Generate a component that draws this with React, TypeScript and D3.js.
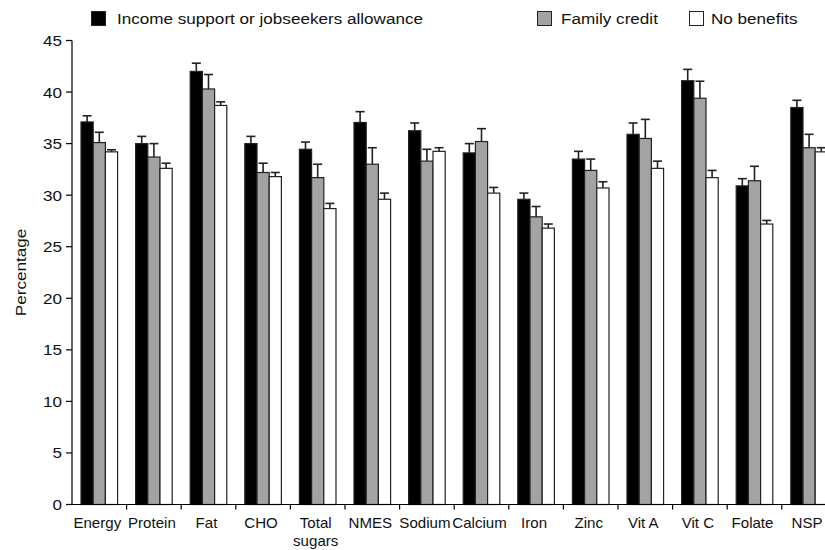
import React from 'react';
import * as d3 from 'd3';

// Nutrient categories along the x axis ("\n" marks a line break in the label)
const categories = [
  'Energy', 'Protein', 'Fat', 'CHO', 'Total\nsugars', 'NMES', 'Sodium',
  'Calcium', 'Iron', 'Zinc', 'Vit A', 'Vit C', 'Folate', 'NSP',
];

const seriesNames = ['Income support or jobseekers allowance', 'Family credit', 'No benefits'];

// Mean percentage per category
const incomeSupport = [37.1, 35.0, 42.0, 35.0, 34.45, 37.05, 36.25, 34.1, 29.6, 33.5, 35.9, 41.1, 30.9, 38.5];
const familyCredit = [35.1, 33.7, 40.3, 32.2, 31.7, 33.0, 33.3, 35.2, 27.9, 32.4, 35.5, 39.4, 31.4, 34.6];
const noBenefits = [34.2, 32.6, 38.7, 31.8, 28.7, 29.6, 34.25, 30.2, 26.8, 30.7, 32.6, 31.7, 27.2, 34.2];

// Standard errors (drawn upward only)
const incomeSupportErr = [0.6, 0.7, 0.8, 0.7, 0.7, 1.05, 0.75, 0.9, 0.6, 0.75, 1.1, 1.1, 0.7, 0.7];
const familyCreditErr = [1.0, 1.3, 1.4, 0.9, 1.3, 1.6, 1.15, 1.25, 1.0, 1.1, 1.85, 1.65, 1.4, 1.3];
const noBenefitsErr = [0.2, 0.5, 0.35, 0.4, 0.5, 0.6, 0.35, 0.55, 0.4, 0.6, 0.7, 0.7, 0.35, 0.4];

const yTicks = [0, 5, 10, 15, 20, 25, 30, 35, 40, 45];

const seriesValues = [incomeSupport, familyCredit, noBenefits];
const seriesErrors = [incomeSupportErr, familyCreditErr, noBenefitsErr];
const seriesFill = ['#000000', '#a3a3a3', '#ffffff'];

const W = 825;
const H = 550;
const FONT = '"Liberation Sans", Arial, sans-serif';
const FS = 14.5;
const SX = 1.18;
const SX_LABEL = 1.04;

export default function App() {
  const left = 72;
  const step = 54.6;
  const x = d3
    .scaleBand<string>()
    .domain(categories)
    .range([left, left + step * categories.length])
    .paddingInner(0.33)
    .paddingOuter(0.165);
  const xs = d3
    .scaleBand<number>()
    .domain([0, 1, 2])
    .range([0, x.bandwidth()]);
  const y = d3.scaleLinear().domain([0, 45]).range([504.5, 40.5]);

  const boundaries = categories.map((_, i) => left + x.step() * (i + 1));

  const legendItems = [
    { sx: 91, tx: 117 },
    { sx: 537, tx: 561 },
    { sx: 689, tx: 711 },
  ];

  return (
    <svg
      width={W}
      height={H}
      style={{ position: 'absolute', left: 0, top: 0, background: '#fff' }}
      fontFamily={FONT}
    >
      {/* legend */}
      {seriesNames.map((name, i) => (
        <g key={name}>
          <rect x={legendItems[i].sx + 0.5} y={11.5} width={14} height={14} fill={seriesFill[i]} stroke="#222" />
          <text transform={`translate(${legendItems[i].tx},23.5) scale(${SX},1)`} fontSize={FS} fill="#111">
            {name}
          </text>
        </g>
      ))}

      {/* bars with upward error bars */}
      {categories.map((c, ci) => (
        <g key={c} transform={`translate(${x(c)},0)`}>
          {seriesValues.map((vals, si) => {
            const bx = xs(si)!;
            const bw = xs.bandwidth();
            const top = y(vals[ci]);
            const errTop = y(vals[ci] + seriesErrors[si][ci]);
            const cx = bx + bw / 2;
            return (
              <g key={si}>
                <line x1={cx} x2={cx} y1={top} y2={errTop} stroke="#222" strokeWidth={1.6} />
                <line x1={cx - 4.5} x2={cx + 4.5} y1={errTop} y2={errTop} stroke="#222" strokeWidth={1.6} />
                <rect
                  x={bx}
                  y={top}
                  width={bw}
                  height={y(0) - top}
                  fill={seriesFill[si]}
                  stroke="#222"
                  strokeWidth={1.2}
                />
              </g>
            );
          })}
        </g>
      ))}

      {/* y axis */}
      <line x1={left} x2={left} y1={y(45)} y2={y(0)} stroke="#000" strokeWidth={1.2} />
      {yTicks.map((t) => (
        <g key={t}>
          <line x1={left - 6} x2={left} y1={y(t)} y2={y(t)} stroke="#000" strokeWidth={1.2} />
          <text
            transform={`translate(${left - 10},${y(t) + 5.5}) scale(${SX},1)`}
            fontSize={FS}
            textAnchor="end"
            fill="#111"
          >
            {t}
          </text>
        </g>
      ))}
      <text
        transform={`translate(26,${(y(0) + y(45)) / 2}) rotate(-90) scale(${SX},1)`}
        fontSize={FS}
        textAnchor="middle"
        fill="#111"
      >
        Percentage
      </text>

      {/* x axis */}
      <line x1={left} x2={W} y1={y(0)} y2={y(0)} stroke="#000" strokeWidth={1.2} />
      {boundaries.map((bx, i) => (
        <line key={i} x1={bx} x2={bx} y1={y(0)} y2={y(0) + 5} stroke="#000" strokeWidth={1.2} />
      ))}
      {categories.map((c) => {
        const cx = x(c)! + x.bandwidth() / 2 - 2;
        return c.split('\n').map((line, li) => (
          <text
            key={c + li}
            transform={`translate(${cx},${528 + li * 18}) scale(${SX_LABEL},1)`}
            fontSize={FS}
            textAnchor="middle"
            fill="#111"
          >
            {line}
          </text>
        ));
      })}
    </svg>
  );
}
